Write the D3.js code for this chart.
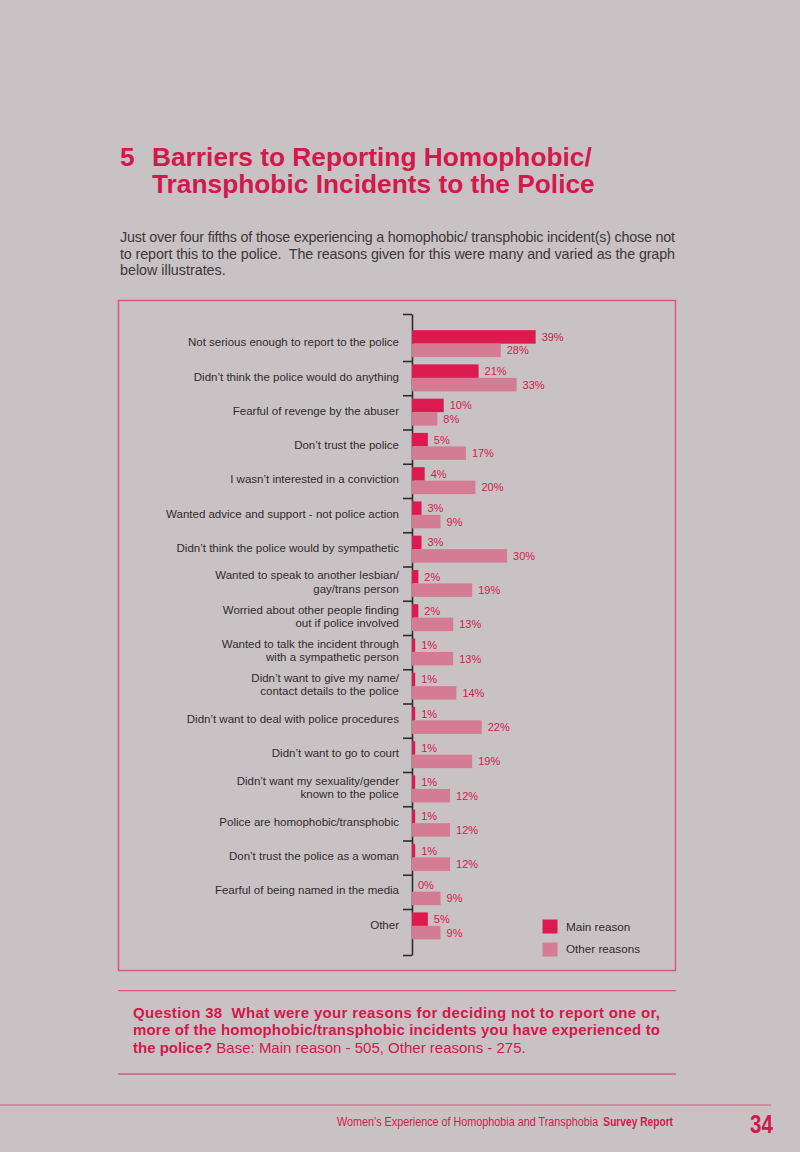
<!DOCTYPE html>
<html>
<head>
<meta charset="utf-8">
<script src="https://cdn.jsdelivr.net/npm/d3@7"></script>
<style>
  html, body { margin: 0; padding: 0; background: #c9c2c4; }
  svg { display: block; }
</style>
</head>
<body>
<svg id="page" width="800" height="1152"></svg>
<script>
// ---- data ----
const categories = [
  "Not serious enough to report to the police",
  "Didn’t think the police would do anything",
  "Fearful of revenge by the abuser",
  "Don’t trust the police",
  "I wasn’t interested in a conviction",
  "Wanted advice and support - not police action",
  "Didn’t think the police would by sympathetic",
  "Wanted to speak to another lesbian/\ngay/trans person",
  "Worried about other people finding\nout if police involved",
  "Wanted to talk the incident through\nwith a sympathetic person",
  "Didn’t want to give my name/\ncontact details to the police",
  "Didn’t want to deal with police procedures",
  "Didn’t want to go to court",
  "Didn’t want my sexuality/gender\nknown to the police",
  "Police are homophobic/transphobic",
  "Don’t trust the police as a woman",
  "Fearful of being named in the media",
  "Other"
];
const mainReason   = [39, 21, 10, 5, 4, 3, 3, 2, 2, 1, 1, 1, 1, 1, 1, 1, 0, 5];
const otherReasons = [28, 33, 8, 17, 20, 9, 30, 19, 13, 13, 14, 22, 19, 12, 12, 12, 9, 9];
const seriesNames  = ["Main reason", "Other reasons"];

const titleNumber = "5";
const titleLines = ["Barriers to Reporting Homophobic/", "Transphobic Incidents to the Police"];
const introLines = [
  "Just over four fifths of those experiencing a homophobic/ transphobic incident(s) chose not",
  "to report this to the police.  The reasons given for this were many and varied as the graph",
  "below illustrates."
];
const questionLines = [
  "Question 38  What were your reasons for deciding not to report one or,",
  "more of the homophobic/transphobic incidents you have experienced to"
];
const questionLast = ["the police?", " Base: Main reason - 505, Other reasons - 275."];
const footerText = ["Women’s Experience of Homophobia and Transphobia", "Survey Report"];
const pageNumber = "34";

// ---- styles ----
const CRIMSON = "#d3184c";
const MAIN = "#dc1a4f";
const OTHER = "#d47c93";
const FRAME = "#d8587c";
const INK = "#2e2c2d";
const FONT = "'Liberation Sans', Arial, Helvetica, sans-serif";

const svg = d3.select("#page");
svg.append("rect").attr("width", 800).attr("height", 1152).attr("fill", "#c9c2c4");

// ---- title ----
svg.append("text").attr("x", 120).attr("y", 166)
  .attr("font-family", FONT).attr("font-weight", 700).attr("font-size", 26.3)
  .attr("fill", CRIMSON).text(titleNumber);
titleLines.forEach((t, i) => {
  svg.append("text").attr("x", 152).attr("y", 166 + i * 27.3)
    .attr("font-family", FONT).attr("font-weight", 700).attr("font-size", 26.3)
    .attr("fill", CRIMSON).text(t);
});

// ---- intro paragraph ----
introLines.forEach((t, i) => {
  const tx = svg.append("text").attr("x", 120).attr("y", 242 + i * 16.7)
    .attr("font-family", FONT).attr("font-size", 14.3).style("white-space", "pre")
    .attr("fill", "#3a3839").text(t);
  if (i < 2) tx.attr("textLength", 555).attr("lengthAdjust", "spacing");
});

// ---- chart frame ----
svg.append("rect").attr("x", 118.5).attr("y", 300.5).attr("width", 557).attr("height", 670)
  .attr("fill", "none").attr("stroke", FRAME).attr("stroke-width", 1.5);

// ---- scales ----
const x = d3.scaleLinear().domain([0, 40]).range([412, 412 + 126.8]);
const y = d3.scaleBand().domain(categories).range([326.75, 943.25]);
const barOff = 3.4, barH = 13.5;

// axis with ticks at band boundaries
const yAxisScale = d3.scaleLinear().domain([314, 955]).range([314, 955]);
const boundaries = [314].concat(categories.slice(1).map(c => y(c)), [955]);
const axisG = svg.append("g").attr("transform", "translate(412,0)")
  .call(d3.axisLeft(yAxisScale).tickValues(boundaries).tickFormat("").tickSize(9).tickSizeOuter(0));
axisG.select(".domain").attr("stroke", INK).attr("stroke-width", 1.6);
axisG.selectAll(".tick line").attr("stroke", INK).attr("stroke-width", 1.6);

// bars
const rows = categories.map((c, i) => ({ c, m: mainReason[i], o: otherReasons[i] }));
const g = svg.append("g");
g.selectAll("rect.main").data(rows).join("rect").attr("class", "main")
  .attr("x", x(0)).attr("y", d => y(d.c) + barOff)
  .attr("width", d => x(d.m) - x(0)).attr("height", barH).attr("fill", MAIN);
g.selectAll("rect.other").data(rows).join("rect").attr("class", "other")
  .attr("x", x(0)).attr("y", d => y(d.c) + barOff + barH)
  .attr("width", d => x(d.o) - x(0)).attr("height", barH).attr("fill", OTHER);

// value labels
g.selectAll("text.mlab").data(rows).join("text").attr("class", "mlab")
  .attr("x", d => x(d.m) + 6).attr("y", d => y(d.c) + barOff + barH / 2)
  .attr("dy", "0.36em").attr("font-family", FONT).attr("font-size", 11)
  .attr("fill", CRIMSON).text(d => d.m + "%");
g.selectAll("text.olab").data(rows).join("text").attr("class", "olab")
  .attr("x", d => x(d.o) + 6).attr("y", d => y(d.c) + barOff + barH * 1.5)
  .attr("dy", "0.36em").attr("font-family", FONT).attr("font-size", 11)
  .attr("fill", CRIMSON).text(d => d.o + "%");

// category labels
rows.forEach(d => {
  const lines = d.c.split("\n");
  const cy = y(d.c) + barOff + barH - 1.5;
  const t = svg.append("text").attr("text-anchor", "end")
    .attr("font-family", FONT).attr("font-size", 11.5).attr("fill", INK);
  lines.forEach((ln, j) => {
    t.append("tspan").attr("x", 399)
      .attr("y", cy + (j - (lines.length - 1) / 2) * 13.4)
      .attr("dy", "0.36em").text(ln);
  });
});

// legend
const legend = svg.append("g");
[MAIN, OTHER].forEach((col, i) => {
  legend.append("rect").attr("x", 542.5).attr("y", 919.5 + i * 23)
    .attr("width", 15).attr("height", 14).attr("fill", col);
  legend.append("text").attr("x", 566).attr("y", 926.5 + i * 22)
    .attr("dy", "0.36em").attr("font-family", FONT).attr("font-size", 11.7)
    .attr("fill", INK).text(seriesNames[i]);
});

// ---- question block ----
svg.append("line").attr("x1", 118).attr("x2", 676).attr("y1", 990.7).attr("y2", 990.7)
  .attr("stroke", FRAME).attr("stroke-width", 1.3);
svg.append("line").attr("x1", 118).attr("x2", 676).attr("y1", 1074).attr("y2", 1074)
  .attr("stroke", FRAME).attr("stroke-width", 1.3);
questionLines.forEach((t, i) => {
  svg.append("text").attr("x", 133).attr("y", 1017.5 + i * 17.6)
    .attr("font-family", FONT).attr("font-weight", 700).attr("font-size", 15)
    .style("white-space", "pre")
    .attr("fill", CRIMSON).attr("textLength", 527).attr("lengthAdjust", "spacing").text(t);
});
const q3 = svg.append("text").attr("x", 133).attr("y", 1052.7)
  .attr("font-family", FONT).attr("font-size", 15).attr("fill", CRIMSON)
  .style("white-space", "pre");
q3.append("tspan").attr("font-weight", 700).text(questionLast[0]);
q3.append("tspan").attr("font-weight", 400).text(questionLast[1]);

// ---- footer ----
svg.append("line").attr("x1", 0).attr("x2", 771).attr("y1", 1105).attr("y2", 1105)
  .attr("stroke", FRAME).attr("stroke-width", 1.2);
// condensed look via horizontal scaling
svg.append("g").attr("transform", "translate(337,1126) scale(0.9,1)")
  .append("text").attr("x", 0).attr("y", 0)
  .attr("font-family", FONT).attr("font-size", 12).attr("fill", CRIMSON)
  .text(footerText[0]);
svg.append("g").attr("transform", "translate(673,1126) scale(0.85,1)")
  .append("text").attr("x", 0).attr("y", 0).attr("text-anchor", "end")
  .attr("font-family", FONT).attr("font-weight", 700).attr("font-size", 12).attr("fill", CRIMSON)
  .text(footerText[1]);
svg.append("g").attr("transform", "translate(750,1133) scale(0.82,1)")
  .append("text").attr("x", 0).attr("y", 0)
  .attr("font-family", FONT).attr("font-weight", 700).attr("font-size", 25)
  .attr("fill", CRIMSON).text(pageNumber);
</script>
</body>
</html>
